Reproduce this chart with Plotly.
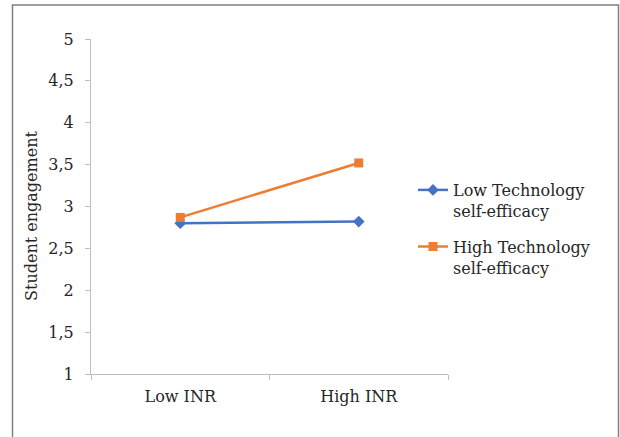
import plotly.graph_objects as go

categories = ["Low INR", "High INR"]
low_tse = [2.80, 2.82]
high_tse = [2.87, 3.52]
series_names = ["Low Technology<br>self-efficacy", "High Technology<br>self-efficacy"]
y_ticks = [1, 1.5, 2, 2.5, 3, 3.5, 4, 4.5, 5]

FONT = "DejaVu Serif"
TXT = "#262626"
AX = "#bfbfbf"

W, H = 620, 437
L, R, T, B = 91, 448, 39, 374
pw, ph = R - L, B - T

def px(x):
    return (x - L) / pw

def py(y):
    return (B - y) / ph

fig = go.Figure()
fig.add_trace(go.Scatter(
    x=categories, y=low_tse, name=series_names[0], mode="lines+markers",
    legendgroup="a",
    line=dict(color="#4472C4", width=2.5),
    marker=dict(symbol="diamond", size=9, color="#4472C4"),
))
fig.add_trace(go.Scatter(
    x=categories, y=high_tse, name=series_names[1], mode="lines+markers",
    legendgroup="b",
    line=dict(color="#ED7D31", width=2.5),
    marker=dict(symbol="square", size=9, color="#ED7D31"),
))

fig.update_layout(
    width=W, height=H,
    margin=dict(l=L, r=W - R, t=T, b=H - B, pad=0),
    paper_bgcolor="white", plot_bgcolor="white",
    separators=", ",
    font=dict(family=FONT, size=16, color=TXT),
    showlegend=True,
    legend=dict(
        x=px(413), y=py(173), xanchor="left", yanchor="top",
        font=dict(family=FONT, size=16, color=TXT),
        bgcolor="rgba(0,0,0,0)", tracegroupgap=12, itemwidth=30,
        valign="top",
    ),
    xaxis=dict(
        type="category", range=[-0.5, 1.5], tickson="boundaries",
        showline=True, linecolor=AX, linewidth=1,
        ticks="outside", ticklen=5, tickcolor=AX,
        showgrid=False, zeroline=False,
        tickfont=dict(family=FONT, size=16, color=TXT),
        ticklabelstandoff=8,
    ),
    yaxis=dict(
        range=[1, 5], tickvals=y_ticks, tickformat=".1~f",
        showline=True, linecolor=AX, linewidth=1,
        ticks="outside", ticklen=5, tickcolor=AX,
        showgrid=False, zeroline=False,
        tickfont=dict(family=FONT, size=16, color=TXT),
        ticklabelstandoff=8,
    ),
    annotations=[dict(
        text="Student engagement", textangle=-90,
        xref="paper", yref="paper", x=px(31), y=py(216),
        xanchor="center", yanchor="middle", showarrow=False,
        font=dict(family=FONT, size=16, color=TXT),
    )],
    shapes=[dict(
        type="rect", xref="paper", yref="paper",
        x0=px(12.5), x1=px(618.5), y0=py(450), y1=py(5),
        line=dict(color="#7f7f7f", width=1.5), fillcolor="rgba(0,0,0,0)",
    )],
)

fig.write_html(
    "out.html",
    config={"displayModeBar": False},
    post_script="document.body.style.margin='0';document.body.style.overflow='hidden';",
)
